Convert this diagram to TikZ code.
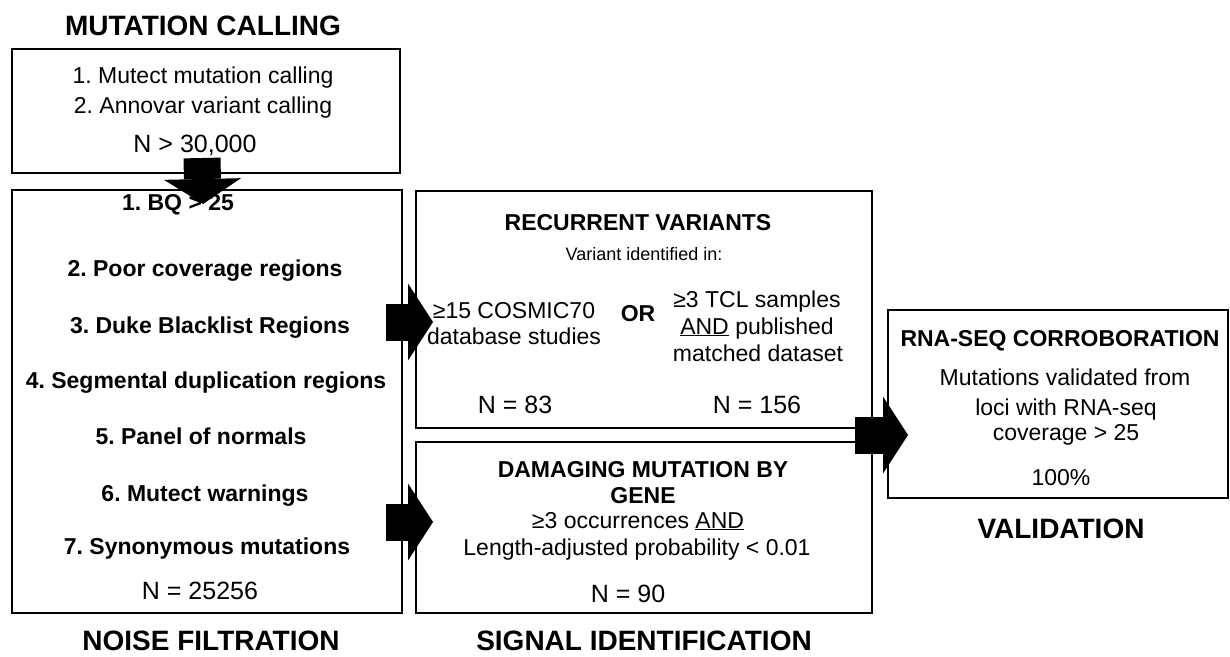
\documentclass[tikz,border=0pt]{standalone}
\usepackage{fontspec}
\setmainfont{Liberation Sans}
\usetikzlibrary{arrows.meta,calc}
\frenchspacing
\begin{document}
\begin{tikzpicture}[x=1pt,y=-1pt,
 box/.style={draw=black, line width=1.8pt, rectangle, inner sep=0pt, outer sep=0pt},
 t/.style={anchor=base, inner sep=0pt, font=\fontsize{23}{27}\selectfont},
 tb/.style={t, font=\fontsize{23}{27}\selectfont\bfseries},
 tn/.style={t, font=\fontsize{25}{29}\selectfont},
 ts/.style={t, font=\fontsize{18}{21}\selectfont},
 ttl/.style={t, font=\fontsize{28}{32}\selectfont\bfseries},
 bigarrow/.style={line width=37pt, line cap=butt, -{Triangle[width=77pt,length=25pt,line width=0pt]}}]
\useasboundingbox (0,0) rectangle (1230,656);

% boxes
\node[box, minimum width=388pt, minimum height=124pt] (calling) at (206,111) {};
\node[box, minimum width=390pt, minimum height=423pt] (noise) at (207,401.5) {};
\node[box, minimum width=456pt, minimum height=237pt] (rec) at (644,309.5) {};
\node[box, minimum width=456pt, minimum height=171pt] (dam) at (644,527.5) {};
\node[box, minimum width=340pt, minimum height=188pt] (rna) at (1058,404) {};

% mutation calling
\node[ttl] (tcall) at (203,35) {MUTATION CALLING};
\node[t] (c1) at (203,83) {1. Mutect mutation calling};
\node[t] (c2) at (203,113) {2. Annovar variant calling};
\node[tn] (c3) at (195,152) {N > 30,000};

% noise filtration
\node[tb] (n1) at (178,210) {1. BQ > 25};
\node[tb] (n2) at (205,276) {2. Poor coverage regions};
\node[tb] (n3) at (210,333) {3. Duke Blacklist Regions};
\node[tb] (n4) at (206,388) {4. Segmental duplication regions};
\node[tb] (n5) at (201,444) {5. Panel of normals};
\node[tb] (n6) at (205,501) {6. Mutect warnings};
\node[tb] (n7) at (207,554) {7. Synonymous mutations};
\node[tn] (n8) at (200,599) {N = 25256};
\node[ttl] (tnoise) at (211,650) {NOISE FILTRATION};

% recurrent variants
\node[tb] (r1) at (638,230) {RECURRENT VARIANTS};
\node[ts] (r2) at (644,260) {Variant identified in:};
\node[t] (r3) at (514,318) {≥15 COSMIC70};
\node[t] (r4) at (514,344) {database studies};
\node[tb] (r5) at (638,321) {OR};
\node[t] (r6) at (757,307) {≥3 TCL samples};
\node[t] (r7) at (757,334) {\underline{AND} published};
\node[t] (r8) at (758,361) {matched dataset};
\node[tn] (r9) at (515,413) {N = 83};
\node[tn] (r10) at (757,413) {N = 156};

% damaging mutation
\node[tb] (d1) at (643,477) {DAMAGING MUTATION BY};
\node[tb] (d2) at (643,503) {GENE};
\node[t] (d3) at (638,528) {≥3 occurrences \underline{AND}};
\node[t] (d4) at (637,555) {Length-adjusted probability < 0.01};
\node[tn] (d5) at (628,602) {N = 90};
\node[ttl] (tsig) at (644,650) {SIGNAL IDENTIFICATION};

% rna-seq
\node[tb] (v1) at (1060,346) {RNA-SEQ CORROBORATION};
\node[t] (v2) at (1065,385) {Mutations validated from};
\node[t] (v3) at (1066,415) {loci with RNA-seq};
\node[t] (v4) at (1066,440) {coverage > 25};
\node[t] (v5) at (1061,485) {100\%};
\node[ttl] (tval) at (1061,538) {VALIDATION};

% arrows
\coordinate (gap) at ($(rec.south east)!0.5!(dam.north east)$);
\draw[bigarrow] ([xshift=-4pt,yshift=15pt]calling.south) -- ([xshift=-4pt,yshift=-14pt]noise.north);
\draw[bigarrow] ([xshift=-16pt,yshift=79.5pt]noise.east) -- ([xshift=17pt,yshift=-12.5pt]rec.west);
\draw[bigarrow] ([xshift=-16pt,yshift=-120.5pt]noise.east) -- ([xshift=17pt,yshift=5.5pt]dam.west);
\draw[bigarrow] ([xshift=-17pt]gap) -- ([xshift=20pt,yshift=-31pt]rna.west);
\end{tikzpicture}
\end{document}
